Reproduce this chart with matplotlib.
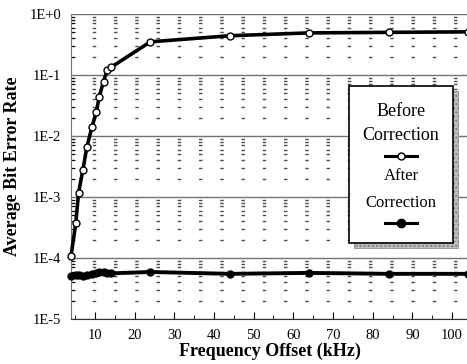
import numpy as np
import matplotlib
matplotlib.use("Agg")
import matplotlib.pyplot as plt
from matplotlib.ticker import FixedLocator, LogLocator, NullFormatter, MultipleLocator
from matplotlib.patches import Rectangle
from matplotlib.lines import Line2D

plt.rcParams["font.family"] = ["Liberation Serif", "DejaVu Serif"]
plt.rcParams["lines.scale_dashes"] = False

# data
freq = [4, 5.2, 5.9, 7, 8, 9.3, 10.4, 11.1, 12.2, 13.1, 14, 24, 44, 64, 84, 104]
ber_before = [1.07e-4, 3.7e-4, 1.17e-3, 2.8e-3, 6.6e-3, 1.42e-2, 2.5e-2, 4.4e-2,
              7.8e-2, 1.19e-1, 1.33e-1, 0.35, 0.44, 0.49, 0.50, 0.51]
ber_after = [5.0e-5, 5.2e-5, 5.3e-5, 5.0e-5, 5.2e-5, 5.5e-5, 5.6e-5, 5.8e-5,
             6.0e-5, 5.7e-5, 5.6e-5, 5.9e-5, 5.5e-5, 5.7e-5, 5.5e-5, 5.5e-5]
ytick_vals = [1e0, 1e-1, 1e-2, 1e-3, 1e-4, 1e-5]
ytick_labels = ["1E+0", "1E-1", "1E-2", "1E-3", "1E-4", "1E-5"]
xtick_vals = [10, 20, 30, 40, 50, 60, 70, 80, 90, 100]

W, H = 467, 364
fig = plt.figure(figsize=(W / 100, H / 100), dpi=100)
ax = fig.add_axes([71 / W, 45 / H, (W - 71) / W + 0.002, (319 - 14) / H])

ax.set_yscale("log")
ax.set_xlim(4, 104)
ax.set_ylim(1e-5, 1e0)

# grid: solid decade lines, short dashed minor lines
ax.yaxis.set_minor_locator(LogLocator(base=10, subs=np.arange(2, 10)))
ax.yaxis.set_minor_formatter(NullFormatter())
ax.grid(True, which="major", axis="y", color="0.45", lw=1.0)
ax.grid(True, which="minor", axis="y", color="0.3", lw=1.0, dashes=(2.5, 12.8))
ax.set_axisbelow(True)

ax.plot(freq, ber_before, color="black", lw=2.6, marker="o", ms=5,
        mfc="white", mec="black", mew=1.0, clip_on=False, zorder=3)
ax.plot(freq, ber_after, color="black", lw=2.8, marker="o", ms=5,
        mfc="black", mec="black", clip_on=False, zorder=3)

ax.yaxis.set_major_locator(FixedLocator(ytick_vals))
ax.set_yticklabels(ytick_labels)
ax.xaxis.set_major_locator(FixedLocator(xtick_vals))
ax.xaxis.set_minor_locator(MultipleLocator(5))
ax.tick_params(axis="both", which="both", direction="in", labelsize=10.5)
ax.tick_params(axis="x", which="major", length=5, pad=7)
ax.tick_params(axis="x", which="minor", length=3)
ax.tick_params(axis="y", which="major", length=0, pad=7)
ax.tick_params(axis="y", which="minor", length=3)

for s in ["top", "right"]:
    ax.spines[s].set_visible(False)
ax.spines["left"].set_color("0.45")
ax.spines["bottom"].set_color("0.2")

ax.set_xlabel("Frequency Offset (kHz)", fontsize=13, fontweight="bold", labelpad=1)
ax.set_ylabel("Average Bit Error Rate", fontsize=13, fontweight="bold", labelpad=6)


# legend drawn by hand: text above handle, framed box with hatched shadow
def fx(px):
    return px / W


def fy(py):
    return 1 - py / H


bx0, bx1, by0, by1 = 349, 453, 86, 243
shadow = Rectangle((fx(bx0 + 5), fy(by1 + 5)), fx(bx1 - bx0), (by1 - by0) / H,
                   transform=fig.transFigure, facecolor="0.75", edgecolor="0.5",
                   hatch="....", lw=0.5, zorder=5)
box = Rectangle((fx(bx0), fy(by1)), fx(bx1 - bx0), (by1 - by0) / H,
                transform=fig.transFigure, facecolor="white", edgecolor="black",
                lw=1.2, zorder=6)
fig.add_artist(shadow)
fig.add_artist(box)

cx = 401
fig.text(fx(cx), fy(111), "Before", ha="center", va="center", fontsize=13, zorder=7)
fig.text(fx(cx), fy(136), "Correction", ha="center", va="center", fontsize=13, zorder=7)
fig.add_artist(Line2D([fx(385), fx(cx), fx(417)], [fy(156)] * 3, transform=fig.transFigure,
                      color="black", lw=2.2, marker="o", ms=5, mfc="white",
                      markevery=[1], zorder=7))
fig.text(fx(cx), fy(176), "After", ha="center", va="center", fontsize=12, zorder=7)
fig.text(fx(cx), fy(203), "Correction", ha="center", va="center", fontsize=12, zorder=7)
fig.add_artist(Line2D([fx(385), fx(cx), fx(417)], [fy(223)] * 3, transform=fig.transFigure,
                      color="black", lw=2.2, marker="o", ms=6, mfc="black",
                      markevery=[1], zorder=7))

fig.savefig("out.png", dpi=100)
